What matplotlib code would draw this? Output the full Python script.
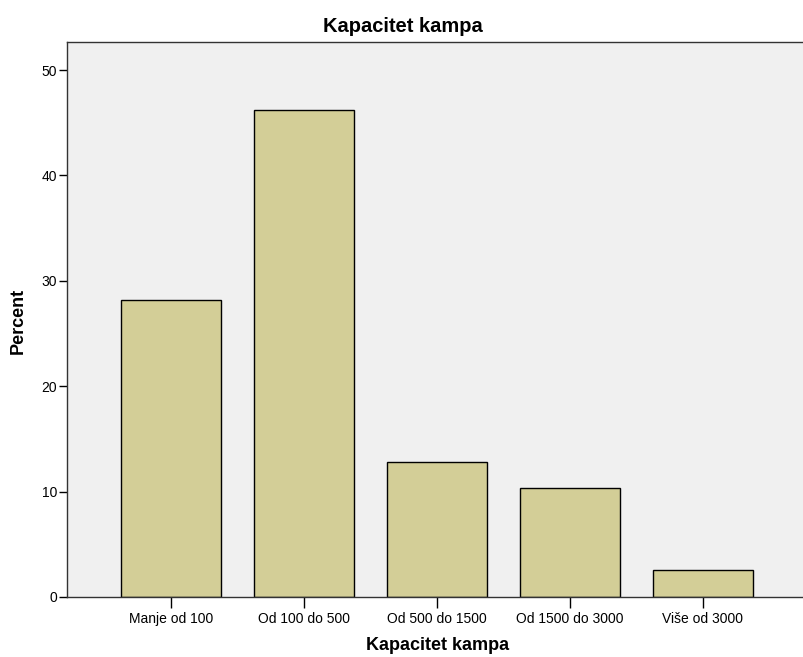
import matplotlib
matplotlib.use("Agg")
import matplotlib.pyplot as plt

categories = ["Manje od 100", "Od 100 do 500", "Od 500 do 1500", "Od 1500 do 3000", "Više od 3000"]
percent = [28.2, 46.2, 12.8, 10.3, 2.6]
yticks = [0, 10, 20, 30, 40, 50]

plt.rcParams['font.family'] = ['Liberation Sans', 'DejaVu Sans']

fig = plt.figure(figsize=(8.04, 6.57), dpi=100)
fig.patch.set_facecolor('white')
ax = fig.add_axes([67/804, 60/657, (804-67)/804, 555/657])
ax.set_facecolor('#F0F0F0')

x = list(range(len(categories)))
ax.bar(x, percent, width=0.75, color='#D3CE97', edgecolor='black', linewidth=1.0, zorder=2)

ax.set_xlim(-0.78, 4.76)
ax.set_ylim(0, 52.66)
ax.set_yticks(yticks)
ax.set_xticks(x)
ax.set_xticklabels(categories, fontsize=10)
ax.tick_params(axis='y', labelsize=10, length=6, width=1, direction='out', pad=1)
ax.tick_params(axis='x', length=8, width=1, direction='out', pad=3)

for s in ['left', 'top', 'bottom']:
    ax.spines[s].set_linewidth(1.0)
    ax.spines[s].set_color('#333333')
ax.spines['right'].set_visible(False)

fig.text(403/804, 1 - 27/657, "Kapacitet kampa", ha='center', va='center', fontsize=14.5, fontweight='bold')
fig.text(438/804, 1 - 646/657, "Kapacitet kampa", ha='center', va='center', fontsize=13, fontweight='bold')
fig.text(18/804, 1 - 321/657, "Percent", ha='center', va='center', rotation=90, fontsize=13, fontweight='bold')

fig.savefig("out.png", dpi=100)
